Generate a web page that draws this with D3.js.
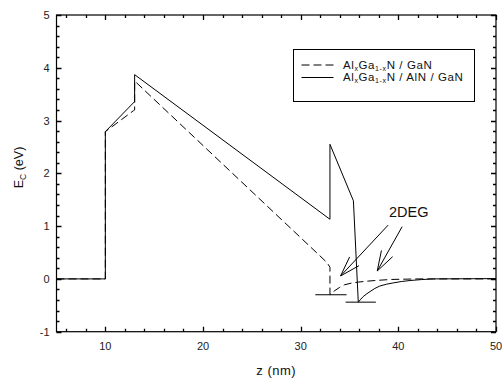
<!DOCTYPE html>
<html>
<head>
<meta charset="utf-8">
<script src="https://d3js.org/d3.v7.min.js"></script>
<style>
body { margin: 0; background: #fff; }
svg { font-family: "Liberation Sans", Arial, sans-serif; }
</style>
</head>
<body>
<svg width="502" height="381"></svg>
<script>
// conduction band edge, AlGaN / GaN (dashed)
var zDash = [5, 10, 10, 12.9, 13, 13, 32.7, 33.0, 33.0, 33.25, 33.5, 34.0, 34.5, 35.2, 35.9, 36.7, 37.6, 39.3, 42, 50];
var eDash = [0, 0, 2.79, 3.19, 3.2, 3.75, 0.31, 0.22, -0.30, -0.26, -0.22, -0.16, -0.11, -0.08, -0.06, -0.045, -0.03, -0.01, 0.0, 0.0];
// conduction band edge, AlGaN / AlN / GaN (solid)
var zSolid = [5, 10, 10, 13, 13, 33, 33, 35.4, 35.9, 36.15, 36.4, 36.75, 37.1, 37.6, 38.1, 38.8, 39.5, 40.3, 41.2, 42.4, 43.6, 50];
var eSolid = [0, 0, 2.79, 3.36, 3.87, 1.13, 2.55, 1.48, -0.44, -0.385, -0.335, -0.285, -0.24, -0.18, -0.135, -0.10, -0.075, -0.05, -0.03, -0.012, 0.0, 0.006];
// Fermi-level marks (z from, z to, E)
var fermiMarks = [[31.5, 34.7, -0.30], [34.6, 37.7, -0.44]];
// 2DEG arrows: tail (z,E) -> tip (z,E)
var arrows = [[38.96, 1.02, 34.09, 0.057], [40.39, 0.99, 37.84, 0.15]];
var legendLabels = [["Al", "x", "Ga", "1-x", "N / GaN"], ["Al", "x", "Ga", "1-x", "N / AlN / GaN"]];
var xMajor = [10, 20, 30, 40, 50];
var yMajor = [-1, 0, 1, 2, 3, 4, 5];

var svg = d3.select("svg");
var x = d3.scaleLinear().domain([5, 50]).range([56.5, 496]);
var y = d3.scaleLinear().domain([-1, 5]).range([331.7, 15]);

var xMinor = d3.range(6, 50.1, 2).filter(function(d) { return d % 10 != 0; });
var yMinor = d3.range(-0.8, 5, 0.2).filter(function(d) { return Math.abs(d - Math.round(d)) > 0.01; });

var x0 = x(5), x1 = x(50), y0 = y(-1), y1 = y(5);

// tick marks, pointing inward on all four sides
var tickPath = d3.path();
function xTicks(vals, len) {
  vals.forEach(function(d) {
    var px = Math.round(x(d)) + 0.5;
    tickPath.moveTo(px, y0); tickPath.lineTo(px, y0 - len);
    tickPath.moveTo(px, y1); tickPath.lineTo(px, y1 + len);
  });
}
function yTicks(vals, len) {
  vals.forEach(function(d) {
    var py = Math.round(y(d)) + 0.5;
    tickPath.moveTo(x0, py); tickPath.lineTo(x0 + len, py);
    tickPath.moveTo(x1, py); tickPath.lineTo(x1 - len, py);
  });
}
xTicks(xMajor, 5); xTicks(xMinor, 3);
yTicks(yMajor, 5); yTicks(yMinor, 3);
svg.append("path").attr("d", tickPath.toString())
  .attr("fill", "none").attr("stroke", "#000").attr("stroke-width", 1.3);

svg.selectAll(".xl").data(xMajor).enter().append("text")
  .attr("x", function(d) { return x(d); }).attr("y", 349.5)
  .attr("text-anchor", "middle").attr("font-size", 11).attr("fill", "#222").text(function(d) { return d; });
svg.selectAll(".yl").data(yMajor).enter().append("text")
  .attr("x", x0 - 7).attr("y", function(d) { return y(d) + 4; })
  .attr("text-anchor", "end").attr("font-size", 11).attr("fill", "#222").text(function(d) { return d; });

// frame
svg.append("rect").attr("x", x0).attr("y", y1)
  .attr("width", x1 - x0).attr("height", y0 - y1)
  .attr("fill", "none").attr("stroke", "#000").attr("stroke-width", 1.2);

var line = d3.line().x(function(d) { return x(d[0]); }).y(function(d) { return y(d[1]); });

svg.append("path").datum(d3.zip(zSolid, eSolid)).attr("d", line)
  .attr("fill", "none").attr("stroke", "#000").attr("stroke-width", 1);
svg.append("path").datum(d3.zip(zDash, eDash)).attr("d", line)
  .attr("fill", "none").attr("stroke", "#000").attr("stroke-width", 1).attr("stroke-dasharray", "8,4");

svg.selectAll(".fermi").data(fermiMarks).enter().append("line")
  .attr("x1", function(d) { return x(d[0]); }).attr("x2", function(d) { return x(d[1]); })
  .attr("y1", function(d) { return y(d[2]); }).attr("y2", function(d) { return y(d[2]); })
  .attr("stroke", "#000").attr("stroke-width", 1);

// arrows with open heads
arrows.forEach(function(a) {
  var ax1 = x(a[0]), ay1 = y(a[1]), ax2 = x(a[2]), ay2 = y(a[3]);
  svg.append("line").attr("x1", ax1).attr("y1", ay1).attr("x2", ax2).attr("y2", ay2)
    .attr("stroke", "#000").attr("stroke-width", 1);
  var ang = Math.atan2(ay1 - ay2, ax1 - ax2), len = 21, spread = 0.31;
  [ang - spread, ang + spread].forEach(function(t) {
    svg.append("line").attr("x1", ax2).attr("y1", ay2)
      .attr("x2", ax2 + len * Math.cos(t)).attr("y2", ay2 + len * Math.sin(t))
      .attr("stroke", "#000").attr("stroke-width", 1);
  });
});

svg.append("text").attr("x", 389).attr("y", 217).attr("font-size", 14.5).attr("fill", "#111").text("2DEG");

// legend
svg.append("rect").attr("x", 293.5).attr("y", 49.5).attr("width", 181).attr("height", 52)
  .attr("fill", "#fff").attr("stroke", "#000").attr("stroke-width", 1);
legendLabels.forEach(function(lab, i) {
  var ly = 65 + i * 12.5;
  svg.append("line").attr("x1", 301.5).attr("x2", 333.5).attr("y1", ly).attr("y2", ly)
    .attr("stroke", "#000").attr("stroke-width", 1).attr("stroke-dasharray", i == 0 ? "8,4" : null);
  var t = svg.append("text").attr("x", 343).attr("y", ly + 3.6).attr("font-size", 11.5)
    .attr("letter-spacing", 0.6).attr("fill", "#111");
  lab.forEach(function(s, k) {
    var ts = t.append("tspan").text(s);
    if (k % 2 == 1) ts.attr("font-size", 7).attr("dy", 2.2);
    else if (k > 0) ts.attr("dy", -2.2);
  });
});

// axis titles
svg.append("text").attr("x", (x0 + x1) / 2).attr("y", 375).attr("text-anchor", "middle")
  .attr("font-size", 13).attr("letter-spacing", 0.5).attr("fill", "#111").text("z (nm)");
var yl = svg.append("text").attr("transform", "translate(23,167.5) rotate(-90)")
  .attr("text-anchor", "middle").attr("font-size", 12.5).attr("fill", "#111");
yl.append("tspan").text("E");
yl.append("tspan").text("C").attr("font-size", 8.5).attr("dy", 3);
yl.append("tspan").text(" (eV)").attr("dy", -3);
</script>
</body>
</html>
